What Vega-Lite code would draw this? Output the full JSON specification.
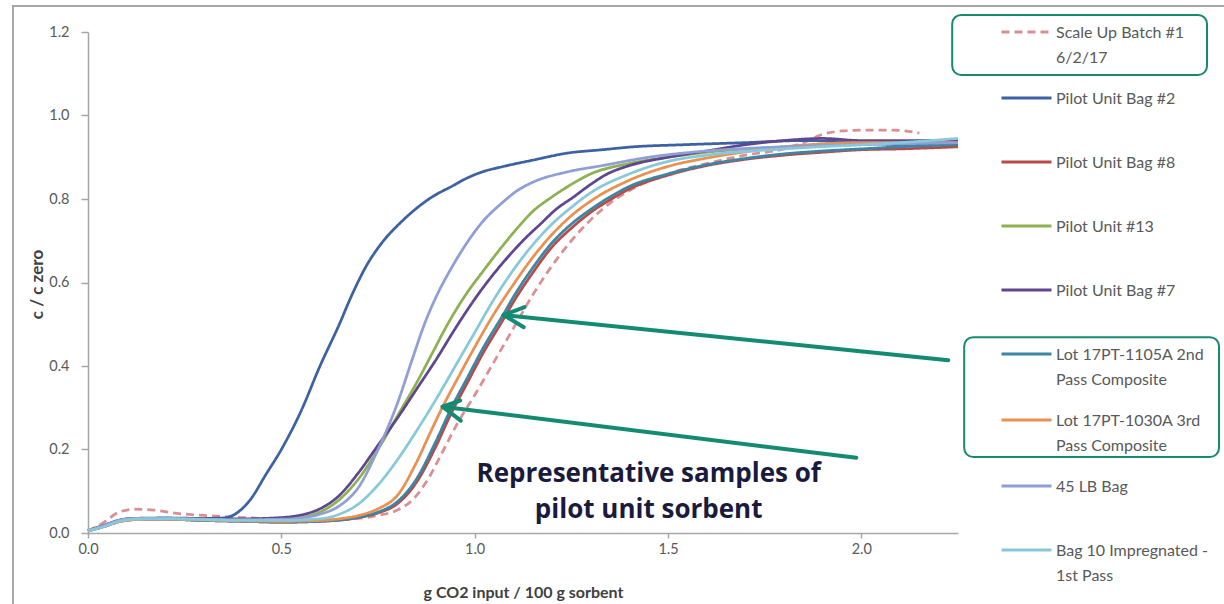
{
  "$schema": "https://vega.github.io/schema/vega-lite/v6.json",
  "width": 870,
  "height": 501,
  "autosize": {"type": "none"},
  "padding": {"left": 88, "top": 32, "right": 266, "bottom": 71},
  "background": "white",
  "config": {"view": {"stroke": null}, "font": "Lato"},
  "datasets": {
    "frame": [{"x": -0.194, "x2": 2.99, "y": 1.262, "y2": -0.2}],
    "boxes": [
      {"x": 2.235, "x2": 2.894, "y": 1.241, "y2": 1.097},
      {"x": 2.266, "x2": 2.925, "y": 0.469, "y2": 0.182}
    ],
    "arrows": [
      {"seg": "a1", "o": 0, "x": 2.225, "y": 0.414},
      {"seg": "a1", "o": 1, "x": 1.075, "y": 0.522},
      {"seg": "h1", "o": 0, "x": 1.129, "y": 0.541},
      {"seg": "h1", "o": 1, "x": 1.075, "y": 0.522},
      {"seg": "h1", "o": 2, "x": 1.127, "y": 0.493},
      {"seg": "a2", "o": 0, "x": 1.987, "y": 0.18},
      {"seg": "a2", "o": 1, "x": 0.917, "y": 0.3025},
      {"seg": "h2", "o": 0, "x": 0.9625, "y": 0.317},
      {"seg": "h2", "o": 1, "x": 0.917, "y": 0.3025},
      {"seg": "h2", "o": 2, "x": 0.964, "y": 0.269}
    ],
    "notes": [
      {"label": "Representative samples of\npilot unit sorbent", "x": 1.45, "y": 0.122}
    ],
    "curves": [
      {"s": "Scale Up Batch #1 6/2/17", "x": 0, "y": 0.005},
      {"s": "Scale Up Batch #1 6/2/17", "x": 0.04, "y": 0.025},
      {"s": "Scale Up Batch #1 6/2/17", "x": 0.08, "y": 0.05},
      {"s": "Scale Up Batch #1 6/2/17", "x": 0.12, "y": 0.057},
      {"s": "Scale Up Batch #1 6/2/17", "x": 0.17, "y": 0.055},
      {"s": "Scale Up Batch #1 6/2/17", "x": 0.22, "y": 0.048},
      {"s": "Scale Up Batch #1 6/2/17", "x": 0.3, "y": 0.042},
      {"s": "Scale Up Batch #1 6/2/17", "x": 0.4, "y": 0.037},
      {"s": "Scale Up Batch #1 6/2/17", "x": 0.5, "y": 0.033},
      {"s": "Scale Up Batch #1 6/2/17", "x": 0.6, "y": 0.031},
      {"s": "Scale Up Batch #1 6/2/17", "x": 0.7, "y": 0.035},
      {"s": "Scale Up Batch #1 6/2/17", "x": 0.75, "y": 0.042},
      {"s": "Scale Up Batch #1 6/2/17", "x": 0.8, "y": 0.055},
      {"s": "Scale Up Batch #1 6/2/17", "x": 0.84, "y": 0.08},
      {"s": "Scale Up Batch #1 6/2/17", "x": 0.88, "y": 0.13},
      {"s": "Scale Up Batch #1 6/2/17", "x": 0.92, "y": 0.2},
      {"s": "Scale Up Batch #1 6/2/17", "x": 0.96, "y": 0.27},
      {"s": "Scale Up Batch #1 6/2/17", "x": 1.0, "y": 0.33},
      {"s": "Scale Up Batch #1 6/2/17", "x": 1.05, "y": 0.41},
      {"s": "Scale Up Batch #1 6/2/17", "x": 1.1, "y": 0.49},
      {"s": "Scale Up Batch #1 6/2/17", "x": 1.15, "y": 0.57},
      {"s": "Scale Up Batch #1 6/2/17", "x": 1.2, "y": 0.64},
      {"s": "Scale Up Batch #1 6/2/17", "x": 1.25, "y": 0.7},
      {"s": "Scale Up Batch #1 6/2/17", "x": 1.3, "y": 0.75},
      {"s": "Scale Up Batch #1 6/2/17", "x": 1.35, "y": 0.79},
      {"s": "Scale Up Batch #1 6/2/17", "x": 1.4, "y": 0.82},
      {"s": "Scale Up Batch #1 6/2/17", "x": 1.5, "y": 0.86},
      {"s": "Scale Up Batch #1 6/2/17", "x": 1.6, "y": 0.885},
      {"s": "Scale Up Batch #1 6/2/17", "x": 1.7, "y": 0.905},
      {"s": "Scale Up Batch #1 6/2/17", "x": 1.8, "y": 0.92},
      {"s": "Scale Up Batch #1 6/2/17", "x": 1.85, "y": 0.935},
      {"s": "Scale Up Batch #1 6/2/17", "x": 1.9, "y": 0.955},
      {"s": "Scale Up Batch #1 6/2/17", "x": 1.95, "y": 0.963},
      {"s": "Scale Up Batch #1 6/2/17", "x": 2.0, "y": 0.965},
      {"s": "Scale Up Batch #1 6/2/17", "x": 2.08, "y": 0.965},
      {"s": "Scale Up Batch #1 6/2/17", "x": 2.15, "y": 0.958},

      {"s": "Pilot Unit Bag #2", "x": 0, "y": 0.005},
      {"s": "Pilot Unit Bag #2", "x": 0.04, "y": 0.018},
      {"s": "Pilot Unit Bag #2", "x": 0.08, "y": 0.03},
      {"s": "Pilot Unit Bag #2", "x": 0.12, "y": 0.035},
      {"s": "Pilot Unit Bag #2", "x": 0.2, "y": 0.036},
      {"s": "Pilot Unit Bag #2", "x": 0.3, "y": 0.035},
      {"s": "Pilot Unit Bag #2", "x": 0.35, "y": 0.036},
      {"s": "Pilot Unit Bag #2", "x": 0.38, "y": 0.045},
      {"s": "Pilot Unit Bag #2", "x": 0.42, "y": 0.08},
      {"s": "Pilot Unit Bag #2", "x": 0.46, "y": 0.14},
      {"s": "Pilot Unit Bag #2", "x": 0.5, "y": 0.2},
      {"s": "Pilot Unit Bag #2", "x": 0.55, "y": 0.29},
      {"s": "Pilot Unit Bag #2", "x": 0.6, "y": 0.4},
      {"s": "Pilot Unit Bag #2", "x": 0.65, "y": 0.5},
      {"s": "Pilot Unit Bag #2", "x": 0.68, "y": 0.565},
      {"s": "Pilot Unit Bag #2", "x": 0.72, "y": 0.64},
      {"s": "Pilot Unit Bag #2", "x": 0.76, "y": 0.695},
      {"s": "Pilot Unit Bag #2", "x": 0.81, "y": 0.745},
      {"s": "Pilot Unit Bag #2", "x": 0.85, "y": 0.778},
      {"s": "Pilot Unit Bag #2", "x": 0.89, "y": 0.805},
      {"s": "Pilot Unit Bag #2", "x": 0.94, "y": 0.83},
      {"s": "Pilot Unit Bag #2", "x": 0.98, "y": 0.85},
      {"s": "Pilot Unit Bag #2", "x": 1.02, "y": 0.865},
      {"s": "Pilot Unit Bag #2", "x": 1.07, "y": 0.877},
      {"s": "Pilot Unit Bag #2", "x": 1.15, "y": 0.893},
      {"s": "Pilot Unit Bag #2", "x": 1.24, "y": 0.91},
      {"s": "Pilot Unit Bag #2", "x": 1.33, "y": 0.918},
      {"s": "Pilot Unit Bag #2", "x": 1.41, "y": 0.925},
      {"s": "Pilot Unit Bag #2", "x": 1.54, "y": 0.93},
      {"s": "Pilot Unit Bag #2", "x": 1.7, "y": 0.935},
      {"s": "Pilot Unit Bag #2", "x": 1.85, "y": 0.94},
      {"s": "Pilot Unit Bag #2", "x": 2.0, "y": 0.935},
      {"s": "Pilot Unit Bag #2", "x": 2.1, "y": 0.93},
      {"s": "Pilot Unit Bag #2", "x": 2.25, "y": 0.935},

      {"s": "Pilot Unit Bag #8", "x": 0, "y": 0.005},
      {"s": "Pilot Unit Bag #8", "x": 0.04, "y": 0.016},
      {"s": "Pilot Unit Bag #8", "x": 0.08, "y": 0.028},
      {"s": "Pilot Unit Bag #8", "x": 0.12, "y": 0.032},
      {"s": "Pilot Unit Bag #8", "x": 0.2, "y": 0.033},
      {"s": "Pilot Unit Bag #8", "x": 0.3, "y": 0.03},
      {"s": "Pilot Unit Bag #8", "x": 0.4, "y": 0.028},
      {"s": "Pilot Unit Bag #8", "x": 0.5, "y": 0.026},
      {"s": "Pilot Unit Bag #8", "x": 0.6, "y": 0.028},
      {"s": "Pilot Unit Bag #8", "x": 0.7, "y": 0.037},
      {"s": "Pilot Unit Bag #8", "x": 0.75, "y": 0.048},
      {"s": "Pilot Unit Bag #8", "x": 0.8, "y": 0.07},
      {"s": "Pilot Unit Bag #8", "x": 0.85, "y": 0.122},
      {"s": "Pilot Unit Bag #8", "x": 0.9, "y": 0.208},
      {"s": "Pilot Unit Bag #8", "x": 0.94, "y": 0.288},
      {"s": "Pilot Unit Bag #8", "x": 0.98, "y": 0.358},
      {"s": "Pilot Unit Bag #8", "x": 1.02, "y": 0.428},
      {"s": "Pilot Unit Bag #8", "x": 1.075, "y": 0.513},
      {"s": "Pilot Unit Bag #8", "x": 1.1, "y": 0.553},
      {"s": "Pilot Unit Bag #8", "x": 1.15, "y": 0.623},
      {"s": "Pilot Unit Bag #8", "x": 1.2, "y": 0.685},
      {"s": "Pilot Unit Bag #8", "x": 1.25, "y": 0.73},
      {"s": "Pilot Unit Bag #8", "x": 1.3, "y": 0.768},
      {"s": "Pilot Unit Bag #8", "x": 1.35, "y": 0.798},
      {"s": "Pilot Unit Bag #8", "x": 1.4, "y": 0.824},
      {"s": "Pilot Unit Bag #8", "x": 1.5, "y": 0.857},
      {"s": "Pilot Unit Bag #8", "x": 1.6, "y": 0.88},
      {"s": "Pilot Unit Bag #8", "x": 1.7, "y": 0.895},
      {"s": "Pilot Unit Bag #8", "x": 1.8, "y": 0.905},
      {"s": "Pilot Unit Bag #8", "x": 1.9, "y": 0.912},
      {"s": "Pilot Unit Bag #8", "x": 2.0, "y": 0.918},
      {"s": "Pilot Unit Bag #8", "x": 2.1, "y": 0.92},
      {"s": "Pilot Unit Bag #8", "x": 2.25, "y": 0.925},

      {"s": "Pilot Unit #13", "x": 0, "y": 0.005},
      {"s": "Pilot Unit #13", "x": 0.04, "y": 0.018},
      {"s": "Pilot Unit #13", "x": 0.08, "y": 0.03},
      {"s": "Pilot Unit #13", "x": 0.12, "y": 0.035},
      {"s": "Pilot Unit #13", "x": 0.2, "y": 0.035},
      {"s": "Pilot Unit #13", "x": 0.3, "y": 0.033},
      {"s": "Pilot Unit #13", "x": 0.4, "y": 0.031},
      {"s": "Pilot Unit #13", "x": 0.5, "y": 0.032},
      {"s": "Pilot Unit #13", "x": 0.55, "y": 0.037},
      {"s": "Pilot Unit #13", "x": 0.6, "y": 0.05},
      {"s": "Pilot Unit #13", "x": 0.65, "y": 0.08},
      {"s": "Pilot Unit #13", "x": 0.7, "y": 0.13},
      {"s": "Pilot Unit #13", "x": 0.75, "y": 0.2},
      {"s": "Pilot Unit #13", "x": 0.8, "y": 0.28},
      {"s": "Pilot Unit #13", "x": 0.85, "y": 0.36},
      {"s": "Pilot Unit #13", "x": 0.89, "y": 0.43},
      {"s": "Pilot Unit #13", "x": 0.93, "y": 0.5},
      {"s": "Pilot Unit #13", "x": 0.98, "y": 0.575},
      {"s": "Pilot Unit #13", "x": 1.02, "y": 0.625},
      {"s": "Pilot Unit #13", "x": 1.07, "y": 0.685},
      {"s": "Pilot Unit #13", "x": 1.11, "y": 0.73},
      {"s": "Pilot Unit #13", "x": 1.15, "y": 0.77},
      {"s": "Pilot Unit #13", "x": 1.2, "y": 0.805},
      {"s": "Pilot Unit #13", "x": 1.25, "y": 0.835},
      {"s": "Pilot Unit #13", "x": 1.3, "y": 0.86},
      {"s": "Pilot Unit #13", "x": 1.4, "y": 0.885},
      {"s": "Pilot Unit #13", "x": 1.5, "y": 0.9},
      {"s": "Pilot Unit #13", "x": 1.6, "y": 0.912},
      {"s": "Pilot Unit #13", "x": 1.8, "y": 0.925},
      {"s": "Pilot Unit #13", "x": 2.0, "y": 0.935},
      {"s": "Pilot Unit #13", "x": 2.25, "y": 0.94},

      {"s": "Pilot Unit Bag #7", "x": 0, "y": 0.005},
      {"s": "Pilot Unit Bag #7", "x": 0.04, "y": 0.018},
      {"s": "Pilot Unit Bag #7", "x": 0.08, "y": 0.03},
      {"s": "Pilot Unit Bag #7", "x": 0.12, "y": 0.035},
      {"s": "Pilot Unit Bag #7", "x": 0.2, "y": 0.035},
      {"s": "Pilot Unit Bag #7", "x": 0.3, "y": 0.034},
      {"s": "Pilot Unit Bag #7", "x": 0.4, "y": 0.034},
      {"s": "Pilot Unit Bag #7", "x": 0.5, "y": 0.037},
      {"s": "Pilot Unit Bag #7", "x": 0.55, "y": 0.043},
      {"s": "Pilot Unit Bag #7", "x": 0.6, "y": 0.058},
      {"s": "Pilot Unit Bag #7", "x": 0.65, "y": 0.09},
      {"s": "Pilot Unit Bag #7", "x": 0.7, "y": 0.145},
      {"s": "Pilot Unit Bag #7", "x": 0.75, "y": 0.21},
      {"s": "Pilot Unit Bag #7", "x": 0.8, "y": 0.275},
      {"s": "Pilot Unit Bag #7", "x": 0.85, "y": 0.345},
      {"s": "Pilot Unit Bag #7", "x": 0.9, "y": 0.415},
      {"s": "Pilot Unit Bag #7", "x": 0.95, "y": 0.49},
      {"s": "Pilot Unit Bag #7", "x": 1.0, "y": 0.56},
      {"s": "Pilot Unit Bag #7", "x": 1.04, "y": 0.61},
      {"s": "Pilot Unit Bag #7", "x": 1.085, "y": 0.66},
      {"s": "Pilot Unit Bag #7", "x": 1.13, "y": 0.705},
      {"s": "Pilot Unit Bag #7", "x": 1.17, "y": 0.74},
      {"s": "Pilot Unit Bag #7", "x": 1.21, "y": 0.775},
      {"s": "Pilot Unit Bag #7", "x": 1.256, "y": 0.805},
      {"s": "Pilot Unit Bag #7", "x": 1.3, "y": 0.835},
      {"s": "Pilot Unit Bag #7", "x": 1.343, "y": 0.86},
      {"s": "Pilot Unit Bag #7", "x": 1.4, "y": 0.88},
      {"s": "Pilot Unit Bag #7", "x": 1.5, "y": 0.9},
      {"s": "Pilot Unit Bag #7", "x": 1.6, "y": 0.915},
      {"s": "Pilot Unit Bag #7", "x": 1.7, "y": 0.93},
      {"s": "Pilot Unit Bag #7", "x": 1.8, "y": 0.94},
      {"s": "Pilot Unit Bag #7", "x": 1.9, "y": 0.945},
      {"s": "Pilot Unit Bag #7", "x": 2.0, "y": 0.94},
      {"s": "Pilot Unit Bag #7", "x": 2.25, "y": 0.94},

      {"s": "Lot 17PT-1105A 2nd Pass Composite", "x": 0, "y": 0.005},
      {"s": "Lot 17PT-1105A 2nd Pass Composite", "x": 0.04, "y": 0.015},
      {"s": "Lot 17PT-1105A 2nd Pass Composite", "x": 0.08, "y": 0.027},
      {"s": "Lot 17PT-1105A 2nd Pass Composite", "x": 0.12, "y": 0.032},
      {"s": "Lot 17PT-1105A 2nd Pass Composite", "x": 0.2, "y": 0.033},
      {"s": "Lot 17PT-1105A 2nd Pass Composite", "x": 0.3, "y": 0.03},
      {"s": "Lot 17PT-1105A 2nd Pass Composite", "x": 0.4, "y": 0.028},
      {"s": "Lot 17PT-1105A 2nd Pass Composite", "x": 0.5, "y": 0.026},
      {"s": "Lot 17PT-1105A 2nd Pass Composite", "x": 0.6, "y": 0.028},
      {"s": "Lot 17PT-1105A 2nd Pass Composite", "x": 0.7, "y": 0.038},
      {"s": "Lot 17PT-1105A 2nd Pass Composite", "x": 0.75, "y": 0.05},
      {"s": "Lot 17PT-1105A 2nd Pass Composite", "x": 0.8, "y": 0.075},
      {"s": "Lot 17PT-1105A 2nd Pass Composite", "x": 0.85, "y": 0.13},
      {"s": "Lot 17PT-1105A 2nd Pass Composite", "x": 0.9, "y": 0.22},
      {"s": "Lot 17PT-1105A 2nd Pass Composite", "x": 0.94, "y": 0.3},
      {"s": "Lot 17PT-1105A 2nd Pass Composite", "x": 0.98, "y": 0.37},
      {"s": "Lot 17PT-1105A 2nd Pass Composite", "x": 1.02, "y": 0.44},
      {"s": "Lot 17PT-1105A 2nd Pass Composite", "x": 1.075, "y": 0.525},
      {"s": "Lot 17PT-1105A 2nd Pass Composite", "x": 1.1, "y": 0.565},
      {"s": "Lot 17PT-1105A 2nd Pass Composite", "x": 1.15, "y": 0.635},
      {"s": "Lot 17PT-1105A 2nd Pass Composite", "x": 1.2, "y": 0.695},
      {"s": "Lot 17PT-1105A 2nd Pass Composite", "x": 1.25, "y": 0.74},
      {"s": "Lot 17PT-1105A 2nd Pass Composite", "x": 1.3, "y": 0.775},
      {"s": "Lot 17PT-1105A 2nd Pass Composite", "x": 1.35, "y": 0.805},
      {"s": "Lot 17PT-1105A 2nd Pass Composite", "x": 1.4, "y": 0.83},
      {"s": "Lot 17PT-1105A 2nd Pass Composite", "x": 1.5, "y": 0.86},
      {"s": "Lot 17PT-1105A 2nd Pass Composite", "x": 1.6, "y": 0.882},
      {"s": "Lot 17PT-1105A 2nd Pass Composite", "x": 1.7, "y": 0.897},
      {"s": "Lot 17PT-1105A 2nd Pass Composite", "x": 1.8, "y": 0.908},
      {"s": "Lot 17PT-1105A 2nd Pass Composite", "x": 1.9, "y": 0.915},
      {"s": "Lot 17PT-1105A 2nd Pass Composite", "x": 2.0, "y": 0.92},
      {"s": "Lot 17PT-1105A 2nd Pass Composite", "x": 2.1, "y": 0.925},
      {"s": "Lot 17PT-1105A 2nd Pass Composite", "x": 2.25, "y": 0.93},

      {"s": "Lot 17PT-1030A 3rd Pass Composite", "x": 0, "y": 0.005},
      {"s": "Lot 17PT-1030A 3rd Pass Composite", "x": 0.04, "y": 0.015},
      {"s": "Lot 17PT-1030A 3rd Pass Composite", "x": 0.08, "y": 0.027},
      {"s": "Lot 17PT-1030A 3rd Pass Composite", "x": 0.12, "y": 0.032},
      {"s": "Lot 17PT-1030A 3rd Pass Composite", "x": 0.2, "y": 0.033},
      {"s": "Lot 17PT-1030A 3rd Pass Composite", "x": 0.3, "y": 0.031},
      {"s": "Lot 17PT-1030A 3rd Pass Composite", "x": 0.4, "y": 0.029},
      {"s": "Lot 17PT-1030A 3rd Pass Composite", "x": 0.5, "y": 0.028},
      {"s": "Lot 17PT-1030A 3rd Pass Composite", "x": 0.6, "y": 0.03},
      {"s": "Lot 17PT-1030A 3rd Pass Composite", "x": 0.65, "y": 0.034},
      {"s": "Lot 17PT-1030A 3rd Pass Composite", "x": 0.7, "y": 0.042},
      {"s": "Lot 17PT-1030A 3rd Pass Composite", "x": 0.75, "y": 0.058},
      {"s": "Lot 17PT-1030A 3rd Pass Composite", "x": 0.8, "y": 0.09},
      {"s": "Lot 17PT-1030A 3rd Pass Composite", "x": 0.85, "y": 0.17},
      {"s": "Lot 17PT-1030A 3rd Pass Composite", "x": 0.885, "y": 0.24},
      {"s": "Lot 17PT-1030A 3rd Pass Composite", "x": 0.917, "y": 0.302},
      {"s": "Lot 17PT-1030A 3rd Pass Composite", "x": 0.95, "y": 0.36},
      {"s": "Lot 17PT-1030A 3rd Pass Composite", "x": 1.0, "y": 0.445},
      {"s": "Lot 17PT-1030A 3rd Pass Composite", "x": 1.05, "y": 0.525},
      {"s": "Lot 17PT-1030A 3rd Pass Composite", "x": 1.1, "y": 0.595},
      {"s": "Lot 17PT-1030A 3rd Pass Composite", "x": 1.15, "y": 0.66},
      {"s": "Lot 17PT-1030A 3rd Pass Composite", "x": 1.2, "y": 0.715},
      {"s": "Lot 17PT-1030A 3rd Pass Composite", "x": 1.25, "y": 0.76},
      {"s": "Lot 17PT-1030A 3rd Pass Composite", "x": 1.3, "y": 0.795},
      {"s": "Lot 17PT-1030A 3rd Pass Composite", "x": 1.4, "y": 0.845},
      {"s": "Lot 17PT-1030A 3rd Pass Composite", "x": 1.5, "y": 0.878},
      {"s": "Lot 17PT-1030A 3rd Pass Composite", "x": 1.6, "y": 0.898},
      {"s": "Lot 17PT-1030A 3rd Pass Composite", "x": 1.7, "y": 0.913},
      {"s": "Lot 17PT-1030A 3rd Pass Composite", "x": 1.8, "y": 0.925},
      {"s": "Lot 17PT-1030A 3rd Pass Composite", "x": 1.9, "y": 0.932},
      {"s": "Lot 17PT-1030A 3rd Pass Composite", "x": 2.0, "y": 0.935},
      {"s": "Lot 17PT-1030A 3rd Pass Composite", "x": 2.25, "y": 0.935},

      {"s": "45 LB Bag", "x": 0, "y": 0.005},
      {"s": "45 LB Bag", "x": 0.04, "y": 0.018},
      {"s": "45 LB Bag", "x": 0.08, "y": 0.03},
      {"s": "45 LB Bag", "x": 0.12, "y": 0.035},
      {"s": "45 LB Bag", "x": 0.2, "y": 0.035},
      {"s": "45 LB Bag", "x": 0.3, "y": 0.033},
      {"s": "45 LB Bag", "x": 0.4, "y": 0.032},
      {"s": "45 LB Bag", "x": 0.5, "y": 0.033},
      {"s": "45 LB Bag", "x": 0.55, "y": 0.036},
      {"s": "45 LB Bag", "x": 0.6, "y": 0.045},
      {"s": "45 LB Bag", "x": 0.65, "y": 0.065},
      {"s": "45 LB Bag", "x": 0.7, "y": 0.11},
      {"s": "45 LB Bag", "x": 0.75, "y": 0.2},
      {"s": "45 LB Bag", "x": 0.8, "y": 0.31},
      {"s": "45 LB Bag", "x": 0.84, "y": 0.42},
      {"s": "45 LB Bag", "x": 0.87, "y": 0.5},
      {"s": "45 LB Bag", "x": 0.9, "y": 0.565},
      {"s": "45 LB Bag", "x": 0.94, "y": 0.635},
      {"s": "45 LB Bag", "x": 0.98, "y": 0.695},
      {"s": "45 LB Bag", "x": 1.02, "y": 0.745},
      {"s": "45 LB Bag", "x": 1.07, "y": 0.79},
      {"s": "45 LB Bag", "x": 1.11, "y": 0.82},
      {"s": "45 LB Bag", "x": 1.15, "y": 0.84},
      {"s": "45 LB Bag", "x": 1.24, "y": 0.865},
      {"s": "45 LB Bag", "x": 1.33, "y": 0.88},
      {"s": "45 LB Bag", "x": 1.45, "y": 0.9},
      {"s": "45 LB Bag", "x": 1.6, "y": 0.915},
      {"s": "45 LB Bag", "x": 1.8, "y": 0.925},
      {"s": "45 LB Bag", "x": 2.0, "y": 0.93},
      {"s": "45 LB Bag", "x": 2.25, "y": 0.935},

      {"s": "Bag 10 Impregnated - 1st Pass", "x": 0, "y": 0.005},
      {"s": "Bag 10 Impregnated - 1st Pass", "x": 0.04, "y": 0.015},
      {"s": "Bag 10 Impregnated - 1st Pass", "x": 0.08, "y": 0.028},
      {"s": "Bag 10 Impregnated - 1st Pass", "x": 0.12, "y": 0.033},
      {"s": "Bag 10 Impregnated - 1st Pass", "x": 0.2, "y": 0.034},
      {"s": "Bag 10 Impregnated - 1st Pass", "x": 0.3, "y": 0.032},
      {"s": "Bag 10 Impregnated - 1st Pass", "x": 0.4, "y": 0.03},
      {"s": "Bag 10 Impregnated - 1st Pass", "x": 0.5, "y": 0.03},
      {"s": "Bag 10 Impregnated - 1st Pass", "x": 0.6, "y": 0.034},
      {"s": "Bag 10 Impregnated - 1st Pass", "x": 0.65, "y": 0.045},
      {"s": "Bag 10 Impregnated - 1st Pass", "x": 0.7, "y": 0.07},
      {"s": "Bag 10 Impregnated - 1st Pass", "x": 0.75, "y": 0.115},
      {"s": "Bag 10 Impregnated - 1st Pass", "x": 0.8, "y": 0.175},
      {"s": "Bag 10 Impregnated - 1st Pass", "x": 0.85, "y": 0.245},
      {"s": "Bag 10 Impregnated - 1st Pass", "x": 0.9, "y": 0.32},
      {"s": "Bag 10 Impregnated - 1st Pass", "x": 0.95, "y": 0.4},
      {"s": "Bag 10 Impregnated - 1st Pass", "x": 1.0, "y": 0.48},
      {"s": "Bag 10 Impregnated - 1st Pass", "x": 1.05, "y": 0.56},
      {"s": "Bag 10 Impregnated - 1st Pass", "x": 1.1, "y": 0.63},
      {"s": "Bag 10 Impregnated - 1st Pass", "x": 1.15, "y": 0.69},
      {"s": "Bag 10 Impregnated - 1st Pass", "x": 1.2, "y": 0.74},
      {"s": "Bag 10 Impregnated - 1st Pass", "x": 1.25, "y": 0.78},
      {"s": "Bag 10 Impregnated - 1st Pass", "x": 1.3, "y": 0.815},
      {"s": "Bag 10 Impregnated - 1st Pass", "x": 1.4, "y": 0.86},
      {"s": "Bag 10 Impregnated - 1st Pass", "x": 1.5, "y": 0.89},
      {"s": "Bag 10 Impregnated - 1st Pass", "x": 1.6, "y": 0.905},
      {"s": "Bag 10 Impregnated - 1st Pass", "x": 1.8, "y": 0.92},
      {"s": "Bag 10 Impregnated - 1st Pass", "x": 2.0, "y": 0.93},
      {"s": "Bag 10 Impregnated - 1st Pass", "x": 2.1, "y": 0.935},
      {"s": "Bag 10 Impregnated - 1st Pass", "x": 2.25, "y": 0.945}
    ]
  },
  "encoding": {
    "x": {
      "field": "x", "type": "quantitative",
      "scale": {"domain": [0, 2.25], "nice": false, "zero": false},
      "axis": {
        "title": "g CO2 input / 100 g sorbent",
        "values": [0, 0.5, 1, 1.5, 2], "format": ".1f", "grid": false, "labelFlush": false,
        "domainColor": "#a6a6a6", "domainWidth": 1.5,
        "tickColor": "#a6a6a6", "tickWidth": 1.5, "tickSize": 5,
        "labelColor": "#595959", "labelFontSize": 14.5, "labelPadding": 4,
        "titleFontSize": 16, "titleFontWeight": "bold", "titleColor": "#404040",
        "titleX": 435, "titleY": 59, "titleAlign": "center", "titleBaseline": "middle"
      }
    },
    "y": {
      "field": "y", "type": "quantitative",
      "scale": {"domain": [0, 1.2], "nice": false},
      "axis": {
        "title": "c / c zero",
        "values": [0, 0.2, 0.4, 0.6, 0.8, 1, 1.2], "format": ".1f", "grid": false, "labelFlush": false,
        "domainColor": "#a6a6a6", "domainWidth": 1.5,
        "tickColor": "#a6a6a6", "tickWidth": 1.5, "tickSize": 7,
        "labelColor": "#595959", "labelFontSize": 14.5, "labelPadding": 12,
        "titleFontSize": 17, "titleFontWeight": "bold", "titleColor": "#404040",
        "titleX": -51, "titleY": 252, "titleAngle": -90, "titleAlign": "center", "titleBaseline": "middle"
      }
    }
  },
  "layer": [
    {
      "data": {"name": "frame"},
      "mark": {"type": "rect", "fill": null, "filled": false, "stroke": "#a6a6a6", "strokeWidth": 2},
      "encoding": {"x2": {"field": "x2"}, "y2": {"field": "y2"}}
    },
    {
      "data": {"name": "curves"},
      "mark": {"type": "line", "interpolate": "monotone", "strokeWidth": 2.75},
      "encoding": {
        "color": {
          "field": "s", "type": "nominal",
          "scale": {
            "domain": ["Scale Up Batch #1 6/2/17", "Pilot Unit Bag #2", "Pilot Unit Bag #8", "Pilot Unit #13", "Pilot Unit Bag #7", "Lot 17PT-1105A 2nd Pass Composite", "Lot 17PT-1030A 3rd Pass Composite", "45 LB Bag", "Bag 10 Impregnated - 1st Pass"],
            "range": ["#d98f94", "#3d62a3", "#b94a48", "#8db150", "#5e4790", "#3a86a4", "#ec9050", "#8f9fd6", "#87c9d9"]
          },
          "legend": {
            "title": null, "orient": "none", "legendX": 912, "legendY": -32, "padding": 0,
            "symbolType": "stroke", "symbolSize": 2500, "symbolStrokeWidth": 3,
            "labelFontSize": 16, "labelColor": "#595959", "labelOffset": 3, "labelLimit": 300,
            "clipHeight": 64, "rowPadding": 0, "labelBaseline": "alphabetic",
            "labelExpr": "datum.label == 'Scale Up Batch #1 6/2/17' ? ['Scale Up Batch #1', '6/2/17'] : datum.label == 'Lot 17PT-1105A 2nd Pass Composite' ? ['Lot 17PT-1105A 2nd', 'Pass Composite'] : datum.label == 'Lot 17PT-1030A 3rd Pass Composite' ? ['Lot 17PT-1030A 3rd', 'Pass Composite'] : datum.label == 'Bag 10 Impregnated - 1st Pass' ? ['Bag 10 Impregnated -', '1st Pass'] : datum.label",
            "encode": {"labels": {"update": {"dy": {"value": 6}, "lineHeight": {"value": 25}}}}
          }
        },
        "strokeDash": {
          "field": "s", "type": "nominal",
          "scale": {
            "domain": ["Scale Up Batch #1 6/2/17", "Pilot Unit Bag #2", "Pilot Unit Bag #8", "Pilot Unit #13", "Pilot Unit Bag #7", "Lot 17PT-1105A 2nd Pass Composite", "Lot 17PT-1030A 3rd Pass Composite", "45 LB Bag", "Bag 10 Impregnated - 1st Pass"],
            "range": [[8, 5], [1, 0], [1, 0], [1, 0], [1, 0], [1, 0], [1, 0], [1, 0], [1, 0]]
          }
        }
      }
    },
    {
      "data": {"name": "boxes"},
      "mark": {"type": "rect", "fill": null, "filled": false, "stroke": "#17896f", "strokeWidth": 2, "cornerRadius": 9},
      "encoding": {"x2": {"field": "x2"}, "y2": {"field": "y2"}}
    },
    {
      "data": {"name": "arrows"},
      "mark": {"type": "line", "color": "#138a72", "strokeWidth": 4, "strokeCap": "round", "strokeJoin": "round"},
      "encoding": {"detail": {"field": "seg"}, "order": {"field": "o", "type": "quantitative"}}
    },
    {
      "data": {"name": "notes"},
      "mark": {"type": "text", "font": "Open Sans", "fontWeight": "bold", "fontSize": 26, "color": "#1a1a3d", "align": "center", "baseline": "alphabetic", "lineBreak": "\n", "lineHeight": 36},
      "encoding": {"text": {"field": "label"}}
    }
  ]
}
